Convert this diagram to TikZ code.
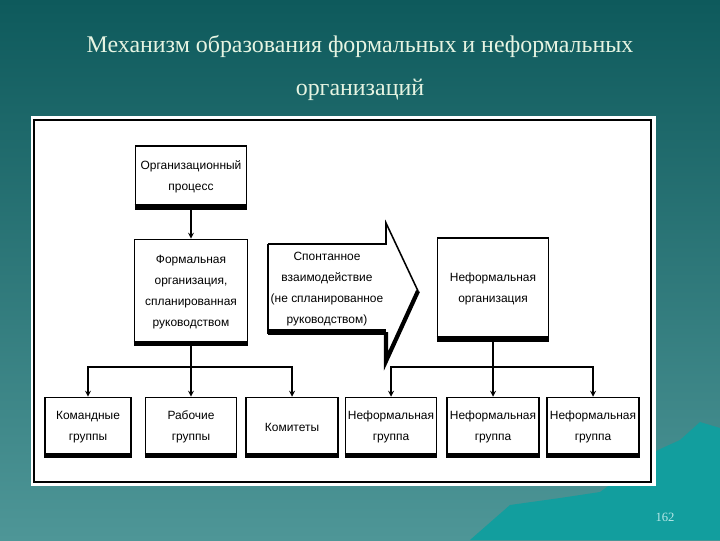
\documentclass[tikz,border=0pt]{standalone}
\usepackage{fontspec}
\setmainfont{Liberation Serif}
\setsansfont{Liberation Sans}
\usetikzlibrary{arrows}
\definecolor{seatop}{HTML}{0E5A5C}
\definecolor{seabottom}{HTML}{4E9697}
\definecolor{hillteal}{HTML}{129E9E}
\definecolor{titlemint}{HTML}{E6F4E2}
\definecolor{pagenum}{HTML}{B8E8E8}
\newcommand{\px}{0.025cm}
\tikzstyle{box} = [
    rectangle,
    draw=black,
    line width=1.1pt,
    fill=white,
    inner sep=1pt,
    align=center,
    font=\sffamily\fontsize{8.5}{15}\selectfont,
    append after command={
        ([yshift=1.2pt]\tikzlastnode.south west) edge[line width=4pt]
        ([yshift=1.2pt]\tikzlastnode.south east)}
]
\tikzstyle{title} = [
    text=titlemint,
    font=\fontsize{17}{20}\selectfont
]
\tikzstyle{arrow} = [line width=0.9pt,->,>=stealth]

\begin{document}
\begin{tikzpicture}[x=\px, y=-\px]

% background
\useasboundingbox (0,0) rectangle (720,540);
\shade[top color=seatop, bottom color=seabottom] (0,0) rectangle (720,540);
\fill[hillteal] (470,540) -- (510,505) -- (560,498) -- (600,492) -- (658,450)
    -- (680,440) -- (700,422) -- (720,428) -- (720,540) -- cycle;

% title
\node (title1) [title] at (360,46) {Механизм образования формальных и неформальных};
\node (title2) [title] at (360,90) {организаций};

% white sheet
\fill[white] (31,116) rectangle (656,486);
\draw[line width=0.8pt] (34,120) rectangle (651,482);

% top part
\node (proc) [box, minimum width=111*\px, minimum height=62*\px] at (191,177)
{Организационный\\процесс};

\node (formal) [box, minimum width=113*\px, minimum height=105*\px] at (191,292)
{Формальная\\организация,\\спланированная\\руководством};

\node (inform) [box, minimum width=111*\px, minimum height=102*\px] at (493,289)
{Неформальная\\организация};

% big arrow
\fill[white] (268,244) -- (386,244) -- (386,223) -- (418,291) -- (386,361)
    -- (386,334) -- (268,334) -- cycle;
\draw[line width=1.1pt] (268,244) -- (386,244) -- (386,223) -- (418,291);
\draw[line width=1.1pt] (268,244) -- (268,334);
\draw[line width=4pt] (268,332) -- (386,332);
\draw[line width=3pt] (386,332) -- (386,361) -- (418,291);
\node (spont) [font=\sffamily\fontsize{8.5}{15}\selectfont, align=center] at (327,289)
{Спонтанное\\взаимодействие\\(не спланированное\\руководством)};

% bottom row
\node (cmd) [box, minimum width=86*\px, minimum height=59*\px] at (88,427)
{Командные\\группы};
\node (work) [box, minimum width=91*\px, minimum height=59*\px] at (191,427)
{Рабочие\\группы};
\node (comm) [box, minimum width=92*\px, minimum height=59*\px] at (292,427)
{Комитеты};
\node (grp1) [box, minimum width=91*\px, minimum height=59*\px] at (391,427)
{Неформальная\\группа};
\node (grp2) [box, minimum width=92*\px, minimum height=59*\px] at (493,427)
{Неформальная\\группа};
\node (grp3) [box, minimum width=92*\px, minimum height=59*\px] at (593,427)
{Неформальная\\группа};

% connectors
\coordinate (fjoin) at (191,367);
\coordinate (ijoin) at (493,367);

\draw [arrow] (proc) -- (formal);
\draw [line width=0.9pt] (formal.south) -- (fjoin);
\draw [arrow] (fjoin) -| (cmd.north);
\draw [arrow] (fjoin) -- (work.north);
\draw [arrow] (fjoin) -| (comm.north);

\draw [line width=0.9pt] (inform.south) -- (ijoin);
\draw [arrow] (ijoin) -| (grp1.north);
\draw [arrow] (ijoin) -- (grp2.north);
\draw [arrow] (ijoin) -| (grp3.north);

% page number
\node (pgnum) [text=pagenum, font=\fontsize{9}{10}\selectfont] at (665,517) {162};

\end{tikzpicture}
\end{document}
